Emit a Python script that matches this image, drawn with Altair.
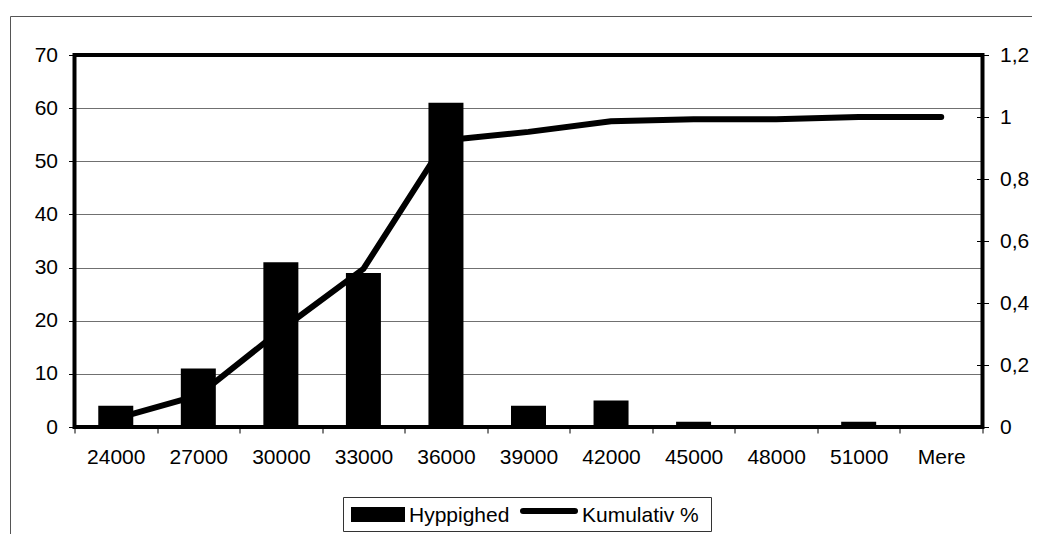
import altair as alt
import pandas as pd

categories = ["24000", "27000", "30000", "33000", "36000", "39000",
              "42000", "45000", "48000", "51000", "Mere"]
frequency = [4, 11, 31, 29, 61, 4, 5, 1, 0, 1, 0]
cumulative = [0.027, 0.102, 0.313, 0.510, 0.925, 0.952, 0.986, 0.993, 0.993, 1.0, 1.0]
series = ["Hyppighed", "Kumulativ %"]
left_ticks = [0, 10, 20, 30, 40, 50, 60, 70]
right_ticks = [0, 0.2, 0.4, 0.6, 0.8, 1.0, 1.2]

W, H = 908, 372
FONT = "Liberation Sans"
FS = 21

df = pd.DataFrame({"Kategori": categories, "Hyppighed": frequency, "Kumulativ": cumulative})
one = pd.DataFrame({"a": [0]})

x_enc = alt.X(
    "Kategori:N", sort=categories,
    scale=alt.Scale(paddingInner=0, paddingOuter=0),
    axis=alt.Axis(title=None, labelAngle=0, tickBand="extent", domain=False,
                  tickSize=6, tickColor="black", tickWidth=1, labelPadding=13,
                  labelFontSize=FS, labelFont=FONT, labelColor="black", grid=False),
)

frame = alt.Chart(one).mark_rect(fill="white", fillOpacity=0, stroke="#555555", strokeWidth=1).encode(
    x=alt.value(-64), x2=alt.value(W + 120), y=alt.value(-38.5), y2=alt.value(H + 140)
)

bars = alt.Chart(df).mark_bar(color="black", width=35).encode(
    x=x_enc,
    y=alt.Y("Hyppighed:Q", scale=alt.Scale(domain=[0, 70], nice=False, zero=True),
            axis=alt.Axis(values=left_ticks, title=None, domain=False, tickSize=6,
                          tickColor="black", grid=True, gridColor="#707070", gridWidth=1,
                          labelPadding=11, labelFontSize=FS, labelFont=FONT,
                          labelColor="black")),
)

border = alt.Chart(one).mark_rect(fill="white", fillOpacity=0, stroke="black", strokeWidth=4).encode(
    x=alt.value(0), x2=alt.value(W), y=alt.value(0), y2=alt.value(H)
)

line = alt.Chart(df).mark_line(color="black", strokeWidth=6, strokeCap="round",
                               strokeJoin="round").encode(
    x=x_enc,
    y=alt.Y("Kumulativ:Q", scale=alt.Scale(domain=[0, 1.2], nice=False, zero=True),
            axis=alt.Axis(orient="right", values=right_ticks, title=None, domain=False,
                          labelExpr="replace(format(datum.value, '.1~f'), '.', ',')",
                          offset=-6, tickSize=12, tickColor="black", grid=False,
                          labelPadding=11, labelFontSize=FS, labelFont=FONT,
                          labelColor="black")),
)

legend_box = alt.Chart(one).mark_rect(fill="white", stroke="#333333", strokeWidth=1).encode(
    x=alt.value(269), x2=alt.value(637), y=alt.value(442.5), y2=alt.value(476.5)
)
legend_swatch = alt.Chart(one).mark_rect(color="black").encode(
    x=alt.value(276.5), x2=alt.value(330.5), y=alt.value(452), y2=alt.value(467)
)
legend_text1 = alt.Chart(one).mark_text(text=series[0], align="left", baseline="alphabetic",
                                        font=FONT, fontSize=FS, color="black").encode(
    x=alt.value(334.5), y=alt.value(467)
)
legend_line = alt.Chart(one).mark_rule(color="black", strokeWidth=6, strokeCap="round").encode(
    x=alt.value(448.5), x2=alt.value(500.5), y=alt.value(456)
)
legend_text2 = alt.Chart(one).mark_text(text=series[1], align="left", baseline="alphabetic",
                                        font=FONT, fontSize=FS, color="black").encode(
    x=alt.value(507.5), y=alt.value(467)
)

chart = alt.layer(
    frame, bars, border, line, legend_box, legend_swatch, legend_text1, legend_line, legend_text2
).resolve_scale(y="independent").properties(
    width=W, height=H,
    autosize=alt.AutoSizeParams(type="none"),
    padding={"left": 66.5, "top": 47, "right": 49.5, "bottom": 107},
).configure_view(stroke=None).configure(background="white")

chart.save("out.html", embed_options={"renderer": "svg", "actions": False})
